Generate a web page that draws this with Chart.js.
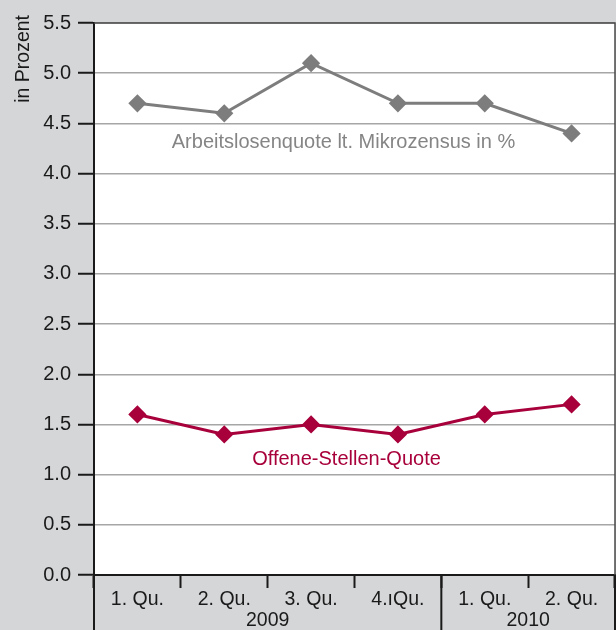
<!DOCTYPE html>
<html>
<head>
<meta charset="utf-8">
<script src="https://cdn.jsdelivr.net/npm/chart.js@4/dist/chart.umd.min.js"></script>
<style>
  html, body { margin: 0; padding: 0; background: #d5d6d8; }
  #wrap { width: 616px; height: 630px; }
</style>
</head>
<body>
<div id="wrap"><canvas id="quoteChart" width="616" height="630"></canvas></div>
<script>
const quarters = ['1. Qu.', '2. Qu.', '3. Qu.', '4.ıQu.', '1. Qu.', '2. Qu.'];
const years = ['2009', '2009', '2009', '2009', '2010', '2010'];
const arbeitslosenquote = [4.7, 4.6, 5.1, 4.7, 4.7, 4.4];
const offeneStellenQuote = [1.6, 1.4, 1.5, 1.4, 1.6, 1.7];

const GRAY = '#7d7d7d';
const RED = '#a8003b';
const FONT = '"Liberation Sans", Arial, sans-serif';

// white plot area + frame, year labels, series labels, axis title
const decorPlugin = {
  id: 'decor',
  beforeDraw(chart) {
    const { ctx, chartArea: a } = chart;
    ctx.save();
    ctx.fillStyle = '#ffffff';
    ctx.fillRect(a.left, a.top, a.right - a.left, a.bottom - a.top);
    ctx.restore();
  },
  afterDraw(chart) {
    const { ctx, chartArea: a, scales } = chart;
    const x = scales.x, y = scales.y;
    const step = x.getPixelForValue(1) - x.getPixelForValue(0);

    ctx.save();
    // frame top/right
    ctx.strokeStyle = '#4a4a4a';
    ctx.lineWidth = 1.5;
    ctx.beginPath();
    ctx.moveTo(a.left, a.top);
    ctx.lineTo(a.right, a.top);
    ctx.lineTo(a.right, a.bottom);
    ctx.stroke();

    // year groups
    const groups = [];
    years.forEach((yr, i) => {
      if (!groups.length || groups[groups.length - 1].label !== yr) groups.push({ label: yr, start: i, end: i });
      else groups[groups.length - 1].end = i;
    });
    ctx.strokeStyle = '#1a1a1a';
    ctx.lineWidth = 2;
    ctx.fillStyle = '#1a1a1a';
    ctx.font = '19.5px ' + FONT;
    ctx.textAlign = 'center';
    ctx.textBaseline = 'middle';
    groups.forEach((g, gi) => {
      const x0 = x.getPixelForValue(g.start) - step / 2;
      const x1 = x.getPixelForValue(g.end) + step / 2;
      ctx.beginPath();
      ctx.moveTo(x0, a.bottom);
      ctx.lineTo(x0, chart.height);
      if (gi === groups.length - 1) {
        ctx.moveTo(x1, a.bottom);
        ctx.lineTo(x1, chart.height);
      }
      ctx.stroke();
      ctx.fillText(g.label, (x0 + x1) / 2, a.bottom + 46);
    });

    // series labels
    const cx = (a.left + a.right) / 2 - 11;
    ctx.font = '20px ' + FONT;
    ctx.fillStyle = '#858585';
    ctx.fillText('Arbeitslosenquote lt. Mikrozensus in %', cx, y.getPixelForValue(4.31));
    ctx.fillStyle = RED;
    ctx.fillText('Offene-Stellen-Quote', cx + 3, y.getPixelForValue(1.15));

    // axis title
    ctx.fillStyle = '#1a1a1a';
    ctx.font = '19.5px ' + FONT;
    ctx.translate(24, 15);
    ctx.rotate(-Math.PI / 2);
    ctx.textAlign = 'right';
    ctx.fillText('in Prozent', 0, 0);
    ctx.restore();
  }
};

const ctx = document.getElementById('quoteChart').getContext('2d');
new Chart(ctx, {
  type: 'line',
  data: {
    labels: quarters,
    datasets: [
      {
        label: 'Arbeitslosenquote lt. Mikrozensus in %',
        data: arbeitslosenquote,
        borderColor: GRAY,
        backgroundColor: GRAY,
        borderWidth: 3,
        pointStyle: 'rectRot',
        pointRadius: 7,
        pointHoverRadius: 7,
        tension: 0
      },
      {
        label: 'Offene-Stellen-Quote',
        data: offeneStellenQuote,
        borderColor: RED,
        backgroundColor: RED,
        borderWidth: 3,
        pointStyle: 'rectRot',
        pointRadius: 7,
        pointHoverRadius: 7,
        tension: 0
      }
    ]
  },
  options: {
    responsive: false,
    animation: false,
    devicePixelRatio: 1,
    layout: { autoPadding: false, padding: { top: 23, right: 1, left: 0, bottom: 0 } },
    plugins: { legend: { display: false }, tooltip: { enabled: false } },
    scales: {
      x: {
        offset: true,
        grid: {
          offset: true,
          drawOnChartArea: false,
          drawTicks: true,
          tickLength: 13,
          tickColor: '#1a1a1a',
          tickWidth: 2
        },
        border: { color: '#1a1a1a', width: 2 },
        ticks: { color: '#1a1a1a', padding: 0, font: { family: FONT, size: 19.5 }, maxRotation: 0 },
        afterFit(scale) { scale.height = 55; }
      },
      y: {
        min: 0,
        max: 5.5,
        ticks: {
          stepSize: 0.5,
          color: '#1a1a1a',
          padding: 7,
          font: { family: FONT, size: 20 },
          callback: v => v.toFixed(1)
        },
        grid: {
          color: '#a6a6a6',
          lineWidth: 1.5,
          tickLength: 16,
          tickColor: '#1a1a1a',
          tickWidth: 2
        },
        border: { color: '#1a1a1a', width: 2 },
        afterFit(scale) { scale.width = 94; }
      }
    }
  },
  plugins: [decorPlugin]
});
</script>
</body>
</html>
